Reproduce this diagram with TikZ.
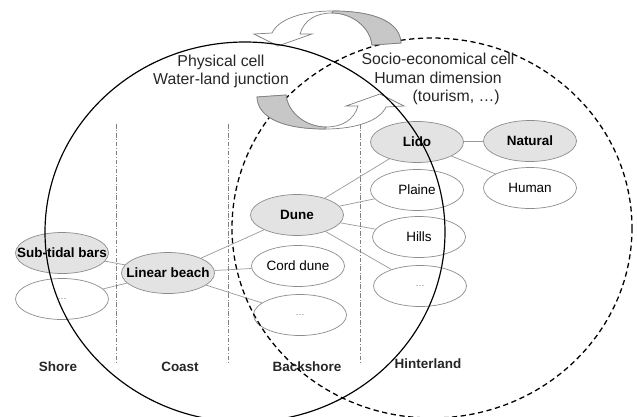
\documentclass[tikz,border=0pt]{standalone}
\usepackage{fontspec}
\setmainfont{Liberation Sans}
\usetikzlibrary{shapes.geometric}

\newcommand{\celltext}[1]{\makebox[0pt]{#1}}

\tikzset{
    cell/.style={ellipse, draw=black!45, line width=0.6pt, fill=white,
        minimum width=2.79cm, minimum height=1.23cm, inner sep=0pt,
        font=\fontsize{11.5}{13}\selectfont},
    keycell/.style={cell, fill=black!11, font=\fontsize{11.5}{13}\selectfont\bfseries},
    dotscell/.style={cell, font=\fontsize{8}{9}\selectfont\color{black!50}},
    link/.style={draw=black!40, line width=0.6pt},
    zone/.style={font=\fontsize{11.5}{13}\selectfont\bfseries, text=black!85},
    heading/.style={align=center, font=\fontsize{13.5}{16}\selectfont, text=black!85},
    border/.style={draw=black!50, line width=0.5pt, dash pattern=on 4pt off 1.5pt on 0.6pt off 1.5pt},
    swirl/.style={fill=white, draw=black!50, line width=0.6pt}
}

\begin{document}
\begin{tikzpicture}[x=0.03cm, y=-0.03cm]
    \useasboundingbox ( 0, 0 ) rectangle ( 637, 417 );

    % elements
    \node [keycell] (subtidal) at ( 62, 253 ) {\celltext{Sub-tidal bars}};
    \node [dotscell] (shoredots) at ( 62, 299 ) {\celltext{\dots}};
    \node [keycell] (linbeach) at ( 168, 273 ) {\celltext{Linear beach}};
    \node [keycell] (dune) at ( 297, 215 ) {\celltext{Dune}};
    \node [cell] (corddune) at ( 298, 266 ) {\celltext{Cord dune}};
    \node [dotscell] (backdots) at ( 300, 315 ) {\celltext{\dots}};
    \node [keycell] (lido) at ( 417, 142 ) {\celltext{Lido}};
    \node [cell] (plaine) at ( 417, 190 ) {\celltext{Plaine}};
    \node [cell] (hills) at ( 419, 237 ) {\celltext{Hills}};
    \node [dotscell] (hinterdots) at ( 420, 286 ) {\celltext{\dots}};
    \node [keycell] (natural) at ( 530, 141 ) {\celltext{Natural}};
    \node [cell] (human) at ( 530, 188 ) {\celltext{Human}};

    % links
    \draw [link] (subtidal) -- (linbeach);
    \draw [link] (shoredots) -- (linbeach);
    \draw [link] (linbeach) -- (dune);
    \draw [link] (linbeach) -- (corddune);
    \draw [link] (linbeach) -- (backdots);
    \draw [link] (dune) -- (lido);
    \draw [link] (dune) -- (plaine);
    \draw [link] (dune) -- (hills);
    \draw [link] (dune) -- (hinterdots);
    \draw [link] (lido) -- (natural);
    \draw [link] (lido) -- (human);

    % zones
    \foreach \sx in {116, 228, 360}
        \draw [border] ( \sx, 124 ) -- ( \sx, 362 );
    \node [zone] (shore) at ( 58, 367 ) {Shore};
    \node [zone] (coast) at ( 180, 367 ) {Coast};
    \node [zone] (backshore) at ( 307, 367 ) {Backshore};
    \node [zone] (hinterland) at ( 428, 364 ) {Hinterland};

    % socio-economical cell
    \draw [line width=1.1pt, dash pattern=on 4.5pt off 3pt] ( 432, 228 ) ellipse [x radius=200, y radius=190];

    % exchange arrows
    \foreach \turn in {0, 180} {
        \begin{scope}[rotate around={\turn:( 329, 70 )}]
            \path [swirl] ( 401, 43 ) .. controls ( 400, 20 ) and ( 370, 11 ) .. ( 333, 11 )
                .. controls ( 300, 11 ) and ( 278, 20 ) .. ( 272, 33 )
                -- ( 254, 34 ) -- ( 278, 46 ) -- ( 312, 34 ) -- ( 300, 34 )
                .. controls ( 304, 20 ) and ( 316, 13 ) .. ( 332, 13 )
                .. controls ( 352, 13 ) and ( 370, 27 ) .. ( 372, 45 ) -- cycle;
            \path [fill=black!22, draw=black!50, line width=0.6pt] ( 401, 43 ) .. controls ( 400, 20 ) and ( 370, 11 ) .. ( 333, 11 )
                -- ( 332, 13 ) .. controls ( 352, 13 ) and ( 370, 27 ) .. ( 372, 45 ) -- cycle;
        \end{scope}
    }

    % physical cell
    \draw [line width=1pt] ( 245, 232 ) ellipse [x radius=200, y radius=190];

    % titles
    \node [heading] (physical) at ( 221, 71.5 ) {Physical cell\\Water-land junction};
    \node [heading] (socio) at ( 438, 79 ) {Socio-economical cell\\Human dimension\\\hspace*{31pt}(tourism, \dots)};
\end{tikzpicture}
\end{document}
